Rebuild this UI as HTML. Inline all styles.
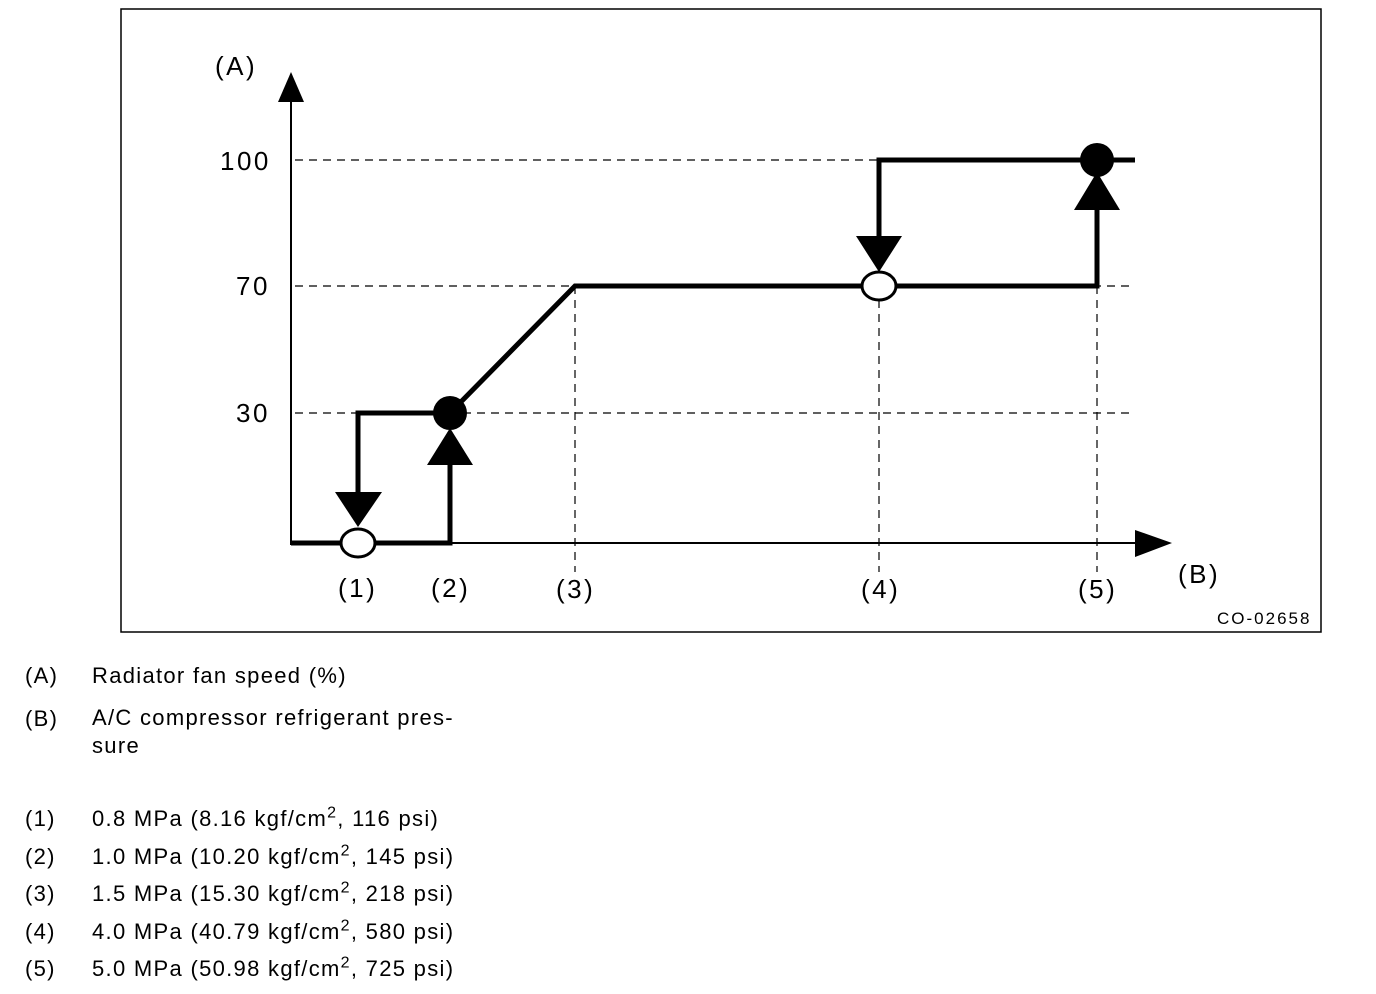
<!DOCTYPE html>
<html><head><style>
body{margin:0;background:#fff;width:1376px;height:994px;overflow:hidden;font-family:"Liberation Sans",sans-serif;}
.t{position:absolute;font-size:22px;letter-spacing:1.3px;color:#000;}
sup{font-size:16px;line-height:0;}
</style></head><body>
<svg width="1376" height="640" style="position:absolute;left:0;top:0" font-family="Liberation Sans" font-size="26" letter-spacing="2.5">
<rect x="121" y="9" width="1200" height="623" fill="none" stroke="#000" stroke-width="1.5"/>
<g stroke="#000" stroke-width="1.2" stroke-dasharray="8,6" fill="none">
<line x1="295" y1="160" x2="877" y2="160"/>
<line x1="295" y1="286" x2="1135" y2="286"/>
<line x1="295" y1="413" x2="1135" y2="413"/>
<line x1="575" y1="286" x2="575" y2="572"/>
<line x1="879" y1="300" x2="879" y2="572"/>
<line x1="1097" y1="286" x2="1097" y2="572"/>
</g>
<line x1="291" y1="100" x2="291" y2="545" stroke="#000" stroke-width="2"/>
<polygon points="278,102 304,102 291,72" fill="#000"/>
<line x1="291" y1="543" x2="1140" y2="543" stroke="#000" stroke-width="2"/>
<polygon points="1135,530 1135,557 1172,543" fill="#000"/>
<g stroke="#000" stroke-width="5" fill="none" stroke-linejoin="miter">
<polyline points="291,543 450,543 450,465"/>
<polyline points="358,492 358,413 440,413"/>
<polyline points="450,413 575,286 1097,286 1097,200"/>
<polyline points="879,250 879,160 1135,160"/>
</g>
<polygon points="335,492 382,492 358,527" fill="#000"/>
<polygon points="427,465 473,465 450,428" fill="#000"/>
<circle cx="450" cy="413" r="17" fill="#000"/>
<ellipse cx="358" cy="543" rx="17" ry="14" fill="#fff" stroke="#000" stroke-width="3"/>
<polygon points="856,236 902,236 879,272" fill="#000"/>
<ellipse cx="879" cy="286" rx="17" ry="14" fill="#fff" stroke="#000" stroke-width="3"/>
<polygon points="1074,210 1120,210 1097,172" fill="#000"/>
<circle cx="1097" cy="160" r="17" fill="#000"/>
<text x="215" y="75">(A)</text>
<text x="220" y="170">100</text>
<text x="236" y="295">70</text>
<text x="236" y="422">30</text>
<text x="338" y="597">(1)</text>
<text x="431" y="597">(2)</text>
<text x="556" y="598">(3)</text>
<text x="861" y="598">(4)</text>
<text x="1078" y="598">(5)</text>
<text x="1178" y="583">(B)</text>
<text x="1217" y="624" font-size="17" letter-spacing="2">CO-02658</text>
</svg>
<div class="t" style="left:25px;top:663px">(A)</div><div class="t" style="left:92px;top:663px">Radiator fan speed (%)</div>
<div class="t" style="left:25px;top:706px">(B)</div><div class="t" style="left:92px;top:704px;line-height:28px">A/C compressor refrigerant pres-<br>sure</div>
<div class="t" style="left:25px;top:806px">(1)</div><div class="t" style="left:92px;top:806px">0.8 MPa (8.16 kgf/cm<sup>2</sup>, 116 psi)</div>
<div class="t" style="left:25px;top:844px">(2)</div><div class="t" style="left:92px;top:844px">1.0 MPa (10.20 kgf/cm<sup>2</sup>, 145 psi)</div>
<div class="t" style="left:25px;top:881px">(3)</div><div class="t" style="left:92px;top:881px">1.5 MPa (15.30 kgf/cm<sup>2</sup>, 218 psi)</div>
<div class="t" style="left:25px;top:919px">(4)</div><div class="t" style="left:92px;top:919px">4.0 MPa (40.79 kgf/cm<sup>2</sup>, 580 psi)</div>
<div class="t" style="left:25px;top:956px">(5)</div><div class="t" style="left:92px;top:956px">5.0 MPa (50.98 kgf/cm<sup>2</sup>, 725 psi)</div>
</body></html>
